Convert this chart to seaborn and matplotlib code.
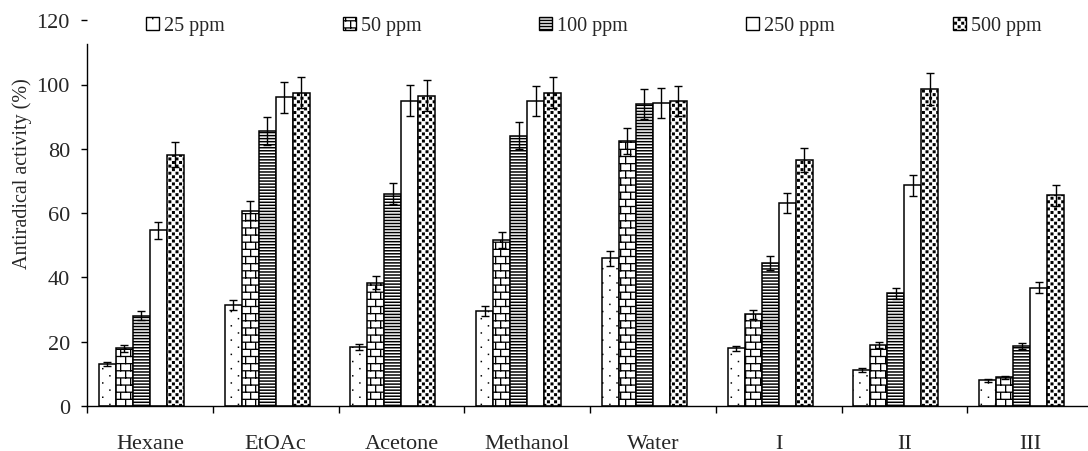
import warnings
warnings.filterwarnings("ignore")
import numpy as np
import pandas as pd
import matplotlib
matplotlib.use("Agg")
import matplotlib.pyplot as plt
import matplotlib.patches as mpatches
import matplotlib.hatch as mhatch
from matplotlib.path import Path
import seaborn as sns

# ---------------- data ----------------
categories = ["Hexane", "EtOAc", "Acetone", "Methanol", "Water", "I", "II", "III"]
concs = ["25 ppm", "50 ppm", "100 ppm", "250 ppm", "500 ppm"]

v25 = [13.0, 31.5, 18.3, 29.6, 46.0, 17.9, 11.1, 8.0]
v50 = [17.9, 60.8, 38.4, 51.6, 82.5, 28.6, 19.0, 8.9]
v100 = [28.1, 85.5, 66.0, 84.0, 94.0, 44.5, 35.0, 18.6]
v250 = [54.6, 96.0, 95.0, 94.8, 94.2, 63.2, 68.6, 36.8]
v500 = [78.2, 97.5, 96.5, 97.5, 94.8, 76.5, 98.6, 65.5]

e25 = [0.7, 1.6, 0.9, 1.5, 2.3, 0.9, 0.6, 0.4]
e50 = [1.0, 3.0, 1.9, 2.6, 4.1, 1.4, 1.0, 0.5]
e100 = [1.4, 4.3, 3.3, 4.2, 4.7, 2.2, 1.7, 0.9]
e250 = [2.7, 4.8, 4.8, 4.7, 4.7, 3.2, 3.4, 1.8]
e500 = [4.0, 4.9, 4.8, 4.9, 4.7, 3.8, 4.9, 3.3]

yticks = [0, 20, 40, 60, 80, 100, 120]

values = [v25, v50, v100, v250, v500]
errors = [e25, e50, e100, e250, e500]
hatches = ["p", "b", "h", "", "q"]


# ------------- custom hatch patterns (filled rectangles) -------------
def _rects_for(ch):
    R = []
    if ch == "p":  # sparse small dots
        n = 7
        s = 100 / n
        for r in range(2 * n):
            for c in range(n):
                R.append((c * s + (r % 2) * s / 2 + 2, r * s / 2 + 2, 1.5, 1.5))
    elif ch == "b":  # bricks
        rows, cols, t = 14, 10, 1.3
        h = 100 / rows
        w = 100 / cols
        for r in range(rows):
            y = r * h
            R.append((0, y, 100, t))
            for c in range(cols):
                R.append((c * w + (r % 2) * w / 2, y, t, h))
    elif ch == "h":  # dense horizontal lines
        n = 33
        s = 100 / n
        for r in range(n):
            R.append((0, r * s, 100, 1.5))
    elif ch == "q":  # dense black squares
        n = 14
        s = 100 / n
        for r in range(2 * n):
            for c in range(n):
                R.append((c * s + (r % 2) * s / 2 + 0.5, r * s / 2 + 0.3, 3.0, 3.0))
    return R


class RectHatch(mhatch.HatchPatternBase):
    def __init__(self, hatch, density):
        self.rects = []
        for ch in "pbhq":
            if ch in hatch:
                self.rects += _rects_for(ch)
        self.num_vertices = 5 * len(self.rects)

    def set_vertices_and_codes(self, vertices, codes):
        for i, (x, y, w, h) in enumerate(self.rects):
            x0, y0, x1, y1 = x / 100, y / 100, (x + w) / 100, (y + h) / 100
            vertices[5 * i:5 * i + 5] = [(x0, y0), (x1, y0), (x1, y1), (x0, y1), (x0, y0)]
            codes[5 * i:5 * i + 5] = [Path.MOVETO, Path.LINETO, Path.LINETO,
                                      Path.LINETO, Path.CLOSEPOLY]


mhatch._hatch_types.append(RectHatch)

# ---------------- style ----------------
sns.set_style("white")
plt.rcParams["font.family"] = ["Liberation Serif", "DejaVu Serif"]
plt.rcParams["hatch.linewidth"] = 0.0
plt.rcParams["hatch.color"] = "black"

rows = []
for ci, c in enumerate(concs):
    for si, s in enumerate(categories):
        rows.append({"sample": s, "conc": c, "activity": values[ci][si]})
df = pd.DataFrame(rows)

W, H = 1088, 452
fig = plt.figure(figsize=(W / 100, H / 100), dpi=100)
ax = fig.add_axes([87 / W, 45 / H, 1006 / W, (407 - 21.2) / H])

hue_order = concs + [" "]
bar_width = 0.81
sns.barplot(data=df, x="sample", y="activity", hue="conc", order=categories,
            hue_order=hue_order, palette={h: "white" for h in hue_order},
            edgecolor="black", linewidth=1.1, width=bar_width, dodge=True,
            errorbar=None, legend=False, saturation=1, ax=ax)

slot = bar_width / len(hue_order)
centers = {i: [None] * len(categories) for i in range(len(concs))}
for p in ax.patches:
    if not isinstance(p, mpatches.Rectangle):
        continue
    cx = p.get_x() + p.get_width() / 2
    g = int(round(cx))
    k = int(round((cx - g + bar_width / 2) / slot - 0.5))
    if 0 <= k < len(concs) and 0 <= g < len(categories):
        p.set_hatch(hatches[k])
        p.set_edgecolor("black")
        p.set_facecolor("white")
        centers[k][g] = cx

for k in range(len(concs)):
    ax.errorbar(centers[k], values[k], yerr=errors[k], fmt="none", ecolor="black",
                elinewidth=1.0, capsize=3.0, capthick=1.0, zorder=5)

ax.set_xlim(-0.5, len(categories) - 0.5)
ax.set_ylim(0, 120)
ax.set_yticks(yticks)
ax.set_yticklabels([str(t) for t in yticks])
ax.set_xticks([i - 0.5 for i in range(len(categories) + 1)])
ax.set_xticklabels([])
ax.set_xticks(range(len(categories)), minor=True)
ax.set_xticklabels(categories, minor=True)
ax.tick_params(axis="x", which="major", direction="out", length=5, width=1,
               color="black", bottom=True)
ax.tick_params(axis="x", which="minor", length=0, pad=20, labelsize=16, bottom=True)
ax.tick_params(axis="y", direction="out", length=4.3, width=1, color="black",
               pad=8, labelsize=16, left=True)
ax.set_xlabel("")
ax.set_ylabel("")

for side in ["top", "right"]:
    ax.spines[side].set_visible(False)
for side in ["left", "bottom"]:
    ax.spines[side].set_color("black")
    ax.spines[side].set_linewidth(1.0)
ax.spines["left"].set_bounds(0, 112.5)

fig.text(22 / W, 1 - 173.5 / H, "Antiradical activity (%)", rotation=90,
         ha="center", va="center", fontsize=14.5)

handles = [mpatches.Patch(facecolor="white", edgecolor="black", linewidth=1.0,
                          hatch=h) for h in hatches]
fig.legend(handles, concs, ncol=5, loc="center left",
           bbox_to_anchor=(146 / W, 1 - 27 / H), frameon=False, fontsize=14.5,
           handlelength=0.65, handleheight=0.65, handletextpad=0.25,
           columnspacing=5.85, borderpad=0, borderaxespad=0)

fig.savefig("out.png", dpi=100)
